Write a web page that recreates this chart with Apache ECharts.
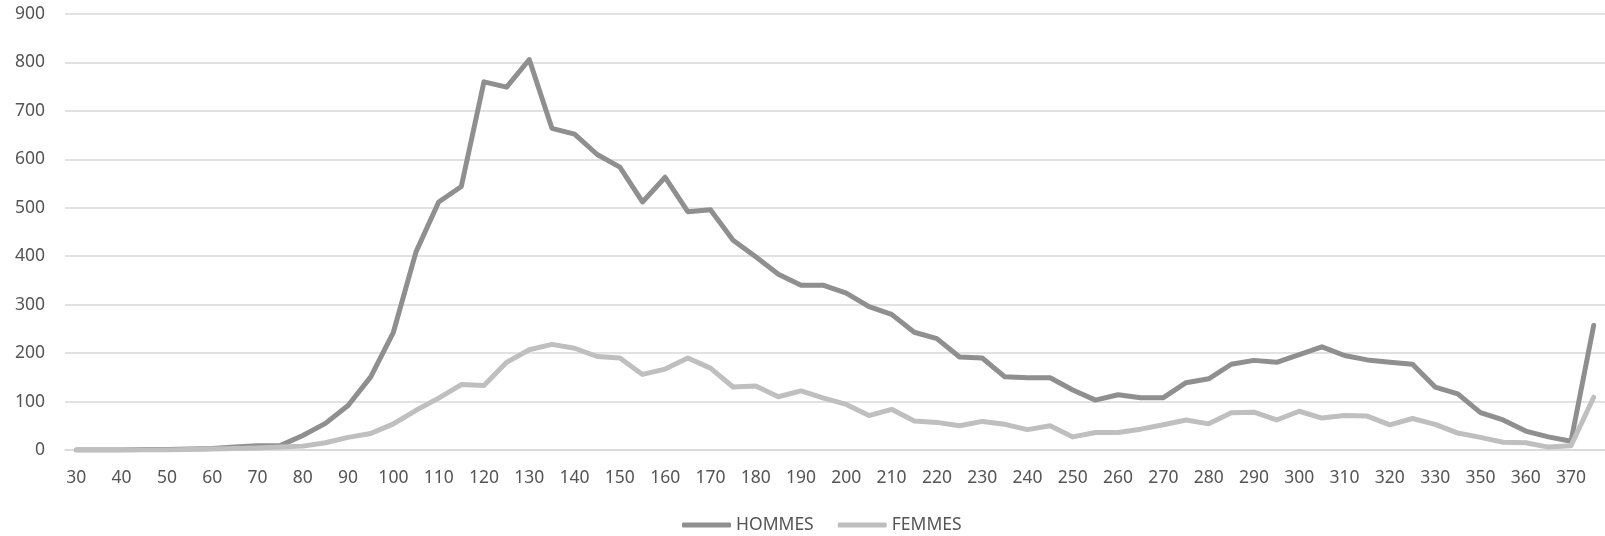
<!DOCTYPE html>
<html>
<head>
<meta charset="utf-8">
<script src="https://cdn.jsdelivr.net/npm/echarts@6/dist/echarts.min.js"></script>
<style>
html,body{margin:0;padding:0;background:#fff;}
#chart{width:1605px;height:536px;}
</style>
</head>
<body>
<div id="chart"></div>
<script>
// tailles (categories) - pas de 340/345 dans les donnees d'origine
var tailles = ['30','35','40','45','50','55','60','65','70','75','80','85','90','95','100','105','110','115','120','125','130',
  '135','140','145','150','155','160','165','170','175','180','185','190','195','200','205','210','215','220','225','230',
  '235','240','245','250','255','260','265','270','275','280','285','290','295','300','305','310','315','320','325','330',
  '340','350','355','360','365','370','375'];

var hommes = [0,0,0,1,1,2,3,6,9,9,30,55,92,151,243,409,512,544,760,749,806,
  664,652,610,584,512,563,492,496,433,399,363,340,340,324,296,280,243,230,192,190,
  151,149,149,124,103,114,108,108,139,147,177,185,181,197,213,195,186,181,177,130,
  116,77,62,39,27,18,257];

var femmes = [0,0,0,0,0,1,2,3,4,6,8,15,26,34,54,82,107,135,133,181,207,
  218,210,193,190,156,167,190,169,130,132,110,122,107,94,71,84,60,57,50,59,
  53,42,50,27,36,36,43,52,62,54,77,78,62,80,66,71,70,52,65,53,
  35,26,16,15,6,9,109];

var yTicks = [0, 100, 200, 300, 400, 500, 600, 700, 800, 900];

var police = 'Noto Sans';
var gris = '#555555';

var myChart = echarts.init(document.getElementById('chart'));
var option = {
  animation: false,
  backgroundColor: '#fff',
  grid: {
    left: 65,
    right: 0,
    top: 14,
    bottom: 86
  },
  legend: {
    left: 677,
    top: 511,
    icon: 'roundRect',
    itemWidth: 49,
    itemHeight: 5,
    itemGap: 24,
    textStyle: { color: gris, fontSize: 17.5, fontFamily: police },
    data: ['HOMMES', 'FEMMES']
  },
  xAxis: {
    type: 'category',
    boundaryGap: true,
    data: tailles,
    axisLine: { show: true, lineStyle: { color: '#d9d9d9', width: 1.5 } },
    axisTick: { show: false },
    axisLabel: {
      interval: 1,
      margin: 19,
      color: gris,
      fontSize: 17.5,
      fontFamily: police
    },
    splitLine: { show: false }
  },
  yAxis: {
    type: 'value',
    min: yTicks[0],
    max: yTicks[yTicks.length - 1],
    interval: 100,
    axisLine: { show: false },
    axisTick: { show: false },
    axisLabel: {
      margin: 20,
      color: gris,
      fontSize: 17.5,
      fontFamily: police
    },
    splitLine: { lineStyle: { color: '#d9d9d9', width: 1.5 } }
  },
  series: [
    {
      name: 'HOMMES',
      type: 'line',
      data: hommes,
      symbol: 'none',
      itemStyle: { color: '#8f8f8f' },
      lineStyle: { color: '#8f8f8f', width: 5, join: 'round', cap: 'round' }
    },
    {
      name: 'FEMMES',
      type: 'line',
      data: femmes,
      symbol: 'none',
      itemStyle: { color: '#bfbfbf' },
      lineStyle: { color: '#bfbfbf', width: 5, join: 'round', cap: 'round' }
    }
  ]
};
myChart.setOption(option);
window.onresize = myChart.resize;
</script>
</body>
</html>
